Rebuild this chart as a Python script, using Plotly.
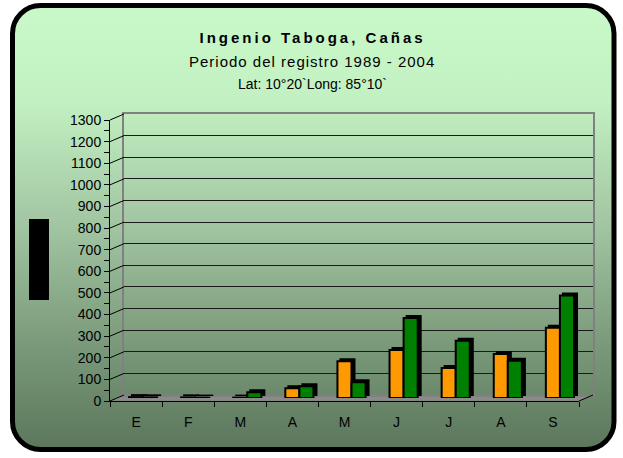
import base64
import plotly.graph_objects as go

# ---- data ----
months = ["E", "F", "M", "A", "M", "J", "J", "A", "S"]
serie_a = [4, 3, 2, 45, 170, 222, 139, 203, 325]      # orange
serie_b = [3, 2, 27, 54, 73, 370, 265, 172, 474]      # green
y_ticks = list(range(0, 1301, 100))

title_lines = ["<b>Ingenio Taboga, Cañas</b>",
               "Periodo del registro 1989 - 2004",
               "Lat: 10°20`Long: 85°10`"]

W, H = 623, 458


def px(x):
    return x / W


def py(y):
    return 1 - y / H


# front plane geometry (pixels)
FX0, FX1 = 110, 579
FY0, FY1 = 401, 120      # y of 0 and of 1300
DX, DY = 14, -6          # depth offset to the back wall
YMAX = 1300
XR = [-0.5, len(months) - 0.5]


def yfront(v):
    return FY0 + (FY1 - FY0) * v / YMAX


def xdom(dx):
    return [px(FX0 + dx), px(FX1 + dx)]


def ydom(dy):
    return [py(FY0 + dy), py(FY1 + dy)]


# ---- background (rounded gradient frame) ----
svg = f'''<svg xmlns="http://www.w3.org/2000/svg" width="{W}" height="{H}" viewBox="0 0 {W} {H}">
<defs><linearGradient id="g" x1="0" y1="0" x2="0" y2="1">
<stop offset="0" stop-color="#c9f9c9"/>
<stop offset="0.22" stop-color="#c2f0c2"/>
<stop offset="0.5" stop-color="#a1c4a1"/>
<stop offset="0.78" stop-color="#789778"/>
<stop offset="1" stop-color="#5c775c"/>
</linearGradient></defs>
<rect x="12.5" y="5.5" width="601.5" height="444" rx="28" ry="28" fill="url(#g)" stroke="#000" stroke-width="5"/>
</svg>'''
src = "data:image/svg+xml;base64," + base64.b64encode(svg.encode()).decode()

fig = go.Figure()
xs = list(range(len(months)))

# subplot order = drawing order: back wall (x/y), front axes (x2/y2),
# bar depth (x3/y3), bar faces (x4/y4)
fig.add_trace(go.Scatter(x=[None], y=[None], xaxis="x", yaxis="y", showlegend=False))
fig.add_trace(go.Scatter(x=[None], y=[None], xaxis="x2", yaxis="y2", showlegend=False))

for vals in (serie_a, serie_b):
    fig.add_trace(go.Bar(x=xs, y=vals, xaxis="x3", yaxis="y3",
                         marker=dict(color="#000", line=dict(color="#000", width=2)),
                         showlegend=False, hoverinfo="skip"))
for vals, col in ((serie_a, "#FF9900"), (serie_b, "#008000")):
    fig.add_trace(go.Bar(x=xs, y=vals, xaxis="x4", yaxis="y4",
                         marker=dict(color=col, line=dict(color="#000", width=2)),
                         showlegend=False, hoverinfo="y"))

shapes = []
# floor
shapes.append(dict(type="path", xref="paper", yref="paper", layer="below",
                   path=f"M {px(FX0)} {py(FY0)} L {px(FX1)} {py(FY0)} L {px(FX1+DX)} {py(FY0+DY)} L {px(FX0+DX)} {py(FY0+DY)} Z",
                   fillcolor="#8a8a8a", line=dict(color="#808080", width=1)))
# diagonal connectors from front ticks to back wall gridlines
for v in y_ticks:
    yf = yfront(v)
    shapes.append(dict(type="line", xref="paper", yref="paper",
                       x0=px(FX0), y0=py(yf), x1=px(FX0 + DX), y1=py(yf + DY),
                       line=dict(color="#000", width=1)))
# right floor edge
shapes.append(dict(type="line", xref="paper", yref="paper",
                   x0=px(FX1), y0=py(FY0), x1=px(FX1 + DX), y1=py(FY0 + DY),
                   line=dict(color="#000", width=1)))
# hidden axis title block
shapes.append(dict(type="rect", xref="paper", yref="paper",
                   x0=px(29), x1=px(49), y0=py(300), y1=py(219),
                   fillcolor="#000", line=dict(width=0)))

annotations = []
for t, y, s in zip(title_lines, [37, 61, 84], [15, 15, 14]):
    annotations.append(dict(text=t, xref="paper", yref="paper", x=px(312), y=py(y),
                            showarrow=False, xanchor="center", yanchor="middle",
                            font=dict(family="Arial, Liberation Sans", size=s, color="#000")))

axis_font = dict(family="Arial, Liberation Sans", size=14, color="#000")
hidden = dict(visible=False, automargin=False)

fig.update_layout(
    template="none",
    width=W, height=H, autosize=False,
    margin=dict(l=0, r=0, t=0, b=0, pad=0),
    paper_bgcolor="white", plot_bgcolor="rgba(0,0,0,0)",
    barmode="group", bargap=0.46, bargroupgap=0.0,
    showlegend=False,
    images=[dict(source=src, xref="paper", yref="paper", x=0, y=1, sizex=1, sizey=1,
                 xanchor="left", yanchor="top", sizing="stretch", layer="below")],
    shapes=shapes,
    annotations=annotations,
    # back wall with gridlines
    xaxis=dict(domain=xdom(DX), range=XR, anchor="y", automargin=False,
               showgrid=False, zeroline=False, showticklabels=False, ticks="",
               showline=True, mirror=True, linecolor="#808080", linewidth=2),
    yaxis=dict(domain=ydom(DY), range=[0, YMAX], anchor="x", automargin=False,
               tickmode="array", tickvals=y_ticks, showgrid=True, gridcolor="#1a1a1a",
               gridwidth=1, zeroline=False, showticklabels=False, ticks="",
               showline=True, mirror=True, linecolor="#808080", linewidth=2),
    # front axes (labels, ticks)
    xaxis2=dict(domain=xdom(0), range=XR, anchor="y2", automargin=False,
                tickmode="array", tickvals=xs, ticktext=months,
                ticks="", showgrid=False, zeroline=False, showline=True,
                linecolor="#000", linewidth=1, tickfont=axis_font, ticklabelstandoff=8,
                minor=dict(tickmode="array", tickvals=[i - 0.5 for i in range(len(months) + 1)],
                           ticks="outside", ticklen=5, tickcolor="#000", showgrid=False)),
    yaxis2=dict(domain=ydom(0), range=[0, YMAX], anchor="x2", automargin=False,
                tickmode="array", tickvals=y_ticks, ticks="outside", ticklen=5,
                tickcolor="#000", showgrid=False, zeroline=False, showline=True,
                linecolor="#000", linewidth=1, tickfont=axis_font,
                minor=dict(dtick=50, ticks="outside", ticklen=5, tickcolor="#000", showgrid=False)),
    # bar depth (offset towards back)
    xaxis3=dict(domain=xdom(DX / 2 + 3), range=XR, anchor="y3", **hidden),
    yaxis3=dict(domain=ydom(DY / 2 - 2), range=[0, YMAX], anchor="x3", **hidden),
    # bar front faces (mid-depth)
    xaxis4=dict(domain=xdom(DX / 2), range=XR, anchor="y4", **hidden),
    yaxis4=dict(domain=ydom(DY / 2), range=[0, YMAX], anchor="x4", **hidden),
)

post = """
document.body.style.margin='0';
document.body.style.overflow='hidden';
var sp = ['3px', '1px', '0px'];
document.querySelectorAll('.annotation-text').forEach(function(t, i){
  if (i < sp.length) { t.setAttribute('letter-spacing', sp[i]); }
});
"""

fig.write_html("out.html", post_script=post,
               config={"displayModeBar": False, "responsive": False})
